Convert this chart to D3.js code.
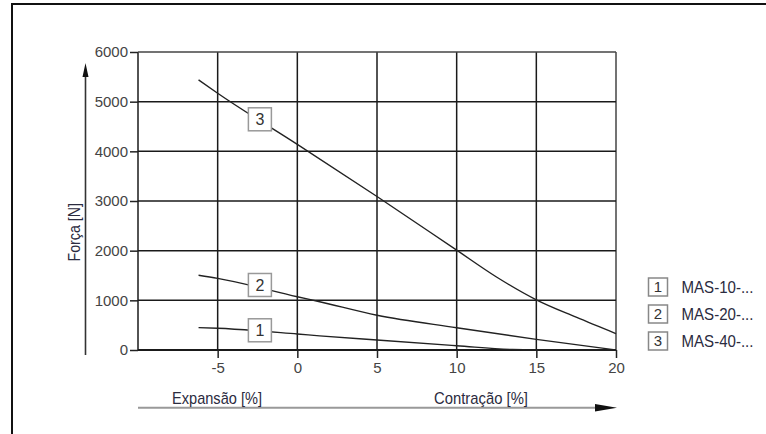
<!DOCTYPE html>
<html><head><meta charset="utf-8">
<script src="https://cdn.jsdelivr.net/npm/d3@7"></script>
<style>body{margin:0;background:#fff}svg{display:block}</style>
</head><body>
<svg id="c" width="766" height="434"></svg>
<script>
// ---- data ----
const xTicks = [-5, 0, 5, 10, 15, 20];
const yTicks = [0, 1000, 2000, 3000, 4000, 5000, 6000];
const xGrid = [-10, -5, 0, 5, 10, 15, 20];
const seriesIds = ["1", "2", "3"];
const legendNames = ["MAS-10-...", "MAS-20-...", "MAS-40-..."];
const s1x = [-6.2, -5, 0, 1.4, 5, 10, 13.5, 15, 20];
const s1y = [450, 437, 322, 285, 200, 87, 10, 3, 0];
const s2x = [-6.2, -5, 0, 1.4, 5, 10, 15, 20];
const s2y = [1505, 1443, 1073, 972, 700, 449, 215, 0];
const s3x = [-6.2, -5, 0, 5, 10, 12.5, 15, 17.5, 20];
const s3y = [5440, 5170, 4140, 3090, 2010, 1470, 1010, 660, 330];
const labelX = [-2.35, -2.35, -2.35];
const labelY = [397, 1309, 4645];
const xTitleLeft = "Expansão [%]";
const xTitleRight = "Contração [%]";
const yTitle = "Força [N]";

const svg = d3.select("#c");
const x = d3.scaleLinear().domain([-10, 20]).range([138, 616]);
const y = d3.scaleLinear().domain([0, 6000]).range([350, 52]);

// outer frame
svg.append("rect").attr("x", 12).attr("y", 4).attr("width", 900).attr("height", 600)
  .attr("fill", "none").attr("stroke", "#111").attr("stroke-width", 2);

// grid
const g = svg.append("g");
g.selectAll(".vg").data(xGrid).join("line")
  .attr("x1", d => x(d)).attr("x2", d => x(d)).attr("y1", y(6000)).attr("y2", y(0))
  .attr("stroke", d => d === 20 ? "#444" : "#1a1a1a").attr("stroke-width", 1.5);
g.selectAll(".hg").data(yTicks).join("line")
  .attr("x1", x(-10)).attr("x2", x(20)).attr("y1", d => y(d)).attr("y2", d => y(d))
  .attr("stroke", d => d === 6000 ? "#444" : "#1a1a1a").attr("stroke-width", d => d === 0 ? 2 : 1.5);

// axes
const yAxis = svg.append("g").attr("transform", `translate(${x(-10)},0)`)
  .call(d3.axisLeft(y).tickValues(yTicks).tickSize(8).tickPadding(2).tickFormat(d3.format("d")));
const xAxis = svg.append("g").attr("transform", `translate(0,${y(0)})`)
  .call(d3.axisBottom(x).tickValues(xTicks).tickSize(8).tickPadding(4).tickFormat(d => d < 0 ? "-" + Math.abs(d) : d));
[yAxis, xAxis].forEach(a => {
  a.select(".domain").remove();
  a.selectAll("line").attr("stroke", "#222").attr("stroke-width", 1.5);
  a.selectAll("text").attr("fill", "#444").style("font-family", "'Liberation Sans', Arial, sans-serif").style("font-size", "15px");
});

// curves
const line = d3.line().x(d => x(d[0])).y(d => y(d[1])).curve(d3.curveMonotoneX);
const series = [d3.zip(s1x, s1y), d3.zip(s2x, s2y), d3.zip(s3x, s3y)];
svg.selectAll(".curve").data(series).join("path")
  .attr("d", line).attr("fill", "none").attr("stroke", "#222").attr("stroke-width", 1.4);

const titleFont = "'Liberation Sans', Arial, sans-serif";

// in-plot labels
const lab = svg.selectAll(".lab").data(seriesIds).join("g")
  .attr("transform", (d,i) => `translate(${x(labelX[i])},${y(labelY[i])})`);
lab.append("rect").attr("x", -11.5).attr("y", -11.5).attr("width", 23).attr("height", 23)
  .attr("fill", "#fff").attr("stroke", "#999").attr("stroke-width", 1.5);
lab.append("text").text(d => d).attr("text-anchor", "middle").attr("dy", "0.36em")
  .attr("fill", "#333").style("font-family", titleFont).style("font-size", "16px");

// y axis arrow
svg.append("line").attr("x1", 85.5).attr("x2", 85.5).attr("y1", 355).attr("y2", 74)
  .attr("stroke", "#333").attr("stroke-width", 1.6);
svg.append("path").attr("d", "M85.5,63 L82.5,77 L88.5,77 Z").attr("fill", "#111");

// x axis arrow
svg.append("line").attr("x1", 138).attr("x2", 600).attr("y1", 407.7).attr("y2", 407.7)
  .attr("stroke", "#999").attr("stroke-width", 2);
svg.append("path").attr("d", "M617,407.7 L595,404 L595,411.4 Z").attr("fill", "#111");

svg.append("text").text(xTitleLeft).attr("x", 172).attr("y", 404)
  .attr("textLength", 90).attr("lengthAdjust", "spacingAndGlyphs")
  .attr("fill", "#2b2b40").style("font-family", titleFont).style("font-size", "17px");
svg.append("text").text(xTitleRight).attr("x", 434).attr("y", 404)
  .attr("textLength", 94).attr("lengthAdjust", "spacingAndGlyphs")
  .attr("fill", "#2b2b40").style("font-family", titleFont).style("font-size", "17px");
svg.append("text").text(yTitle).attr("transform", "translate(80,261.5) rotate(-90)")
  .attr("textLength", 58.5).attr("lengthAdjust", "spacingAndGlyphs")
  .attr("fill", "#2b2b40").style("font-family", titleFont).style("font-size", "17px");

// legend
const leg = svg.selectAll(".leg").data(seriesIds).join("g")
  .attr("transform", (d,i) => `translate(648.5,${287 + i * 27})`);
leg.append("rect").attr("x", 0).attr("y", -9).attr("width", 19).attr("height", 18)
  .attr("fill", "#fff").attr("stroke", "#888").attr("stroke-width", 1.5);
leg.append("text").text(d => d).attr("x", 9.5).attr("dy", "0.36em").attr("text-anchor", "middle")
  .attr("fill", "#333").style("font-family", titleFont).style("font-size", "15px");
leg.append("text").text((d,i) => legendNames[i]).attr("x", 33).attr("dy", "0.36em")
  .attr("textLength", 72).attr("lengthAdjust", "spacingAndGlyphs")
  .attr("fill", "#2b2b40").style("font-family", titleFont).style("font-size", "17px");
</script>
</body></html>
